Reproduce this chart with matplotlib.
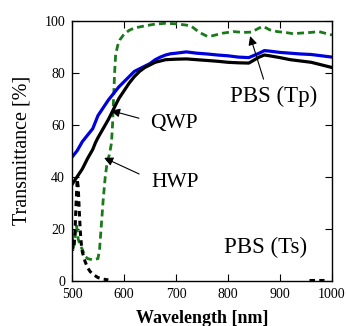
import matplotlib
matplotlib.use("Agg")
import matplotlib.pyplot as plt

# QWP (blue)
qwp_wl = [500, 510, 520, 530, 540, 545, 550, 555, 560, 570, 580, 590, 600, 610, 620, 630,
          640, 650, 660, 670, 680, 690, 700, 720, 740, 760, 780, 800, 820, 840, 860, 870,
          880, 900, 920, 940, 960, 980, 1000]
qwp_t = [47.5, 50, 53.5, 56, 58.5, 61, 63.5, 65, 66.5, 69.5, 72, 74.5, 76.5, 78.5, 80.5, 81.5,
         82.5, 83.5, 85, 86, 86.8, 87.3, 87.5, 88, 87.5, 87.2, 86.8, 86.5, 86, 85.8, 87.5, 88.5,
         88.3, 87.8, 87.5, 87.2, 87, 86.5, 86]

# HWP (black)
hwp_wl = [500, 505, 510, 520, 530, 540, 545, 550, 560, 570, 580, 590, 600, 610, 620, 630,
          640, 650, 660, 670, 680, 700, 720, 740, 760, 780, 800, 820, 840, 860, 870, 880,
          900, 920, 940, 960, 980, 1000]
hwp_t = [37, 38.5, 40, 43, 47, 50.5, 53, 55, 58.5, 62, 66, 70, 73, 76, 78.5, 80.5,
         82, 83, 84, 84.5, 85, 85.2, 85.3, 85, 84.7, 84.4, 84, 83.8, 83.7, 86, 86.8, 86.5,
         85.8, 85, 84.5, 84, 83, 82]

# PBS Tp (green dashed)
tp_wl = [500, 503, 506, 509, 512, 516, 520, 525, 530, 540, 550, 553, 556, 560, 564, 568,
         572, 576, 578, 580, 582, 584, 588, 592, 600, 610, 620, 640, 660, 680, 700, 720,
         730, 745, 760, 770, 790, 810, 830, 845, 860, 868, 880, 895, 910, 925, 945, 960,
         975, 990, 1000]
tp_t = [18, 13, 17, 21, 16, 13.5, 12, 9.5, 8.5, 8, 8.5, 12, 20, 31, 40, 46,
        48.5, 53, 60, 70, 80, 87, 90.5, 92.6, 94.8, 96.3, 97.2, 98, 98.7, 99, 98.8, 98.3,
        97.8, 95.5, 94, 94.2, 95.2, 95.8, 95.5, 95.6, 97.2, 97.8, 96.5, 95.8, 95.5, 95, 95.3, 95.5,
        95.8, 95, 94.5]

# PBS Ts (black dashed)
ts_wl = [500, 502, 504, 506, 508, 510, 512, 514, 516, 518, 520, 525, 530, 535, 540, 550, 560, 570]
ts_t = [14, 12, 13, 20, 30, 39, 36, 27, 19, 14, 11, 7.5, 5, 3.5, 2.5, 1.2, 0.6, 0.3]
ts2_wl = [955, 970, 985]
ts2_t = [0.4, 0.4, 0.4]

serif = ["Liberation Serif", "DejaVu Serif"]
plt.rcParams["font.family"] = serif

fig = plt.figure(figsize=(3.46, 3.26), dpi=100)
ax = fig.add_axes([0.208, 0.139, 0.7515, 0.7975])

ax.plot(tp_wl, tp_t, color="#1a7a1a", lw=2, ls=(0, (2.5, 1.5)))
ax.plot(ts_wl, ts_t, color="black", lw=2.2, ls=(0, (1.8, 1.4)))
ax.plot(ts2_wl, ts2_t, color="black", lw=2.2, ls=(0, (1.8, 1.4)), clip_on=False)
ax.plot(qwp_wl, qwp_t, color="#0000dd", lw=2.3)
ax.plot(hwp_wl, hwp_t, color="black", lw=2.3)

ax.set_xlim(500, 1000)
ax.set_ylim(0, 100)
ax.set_xticks(range(500, 1001, 100))
ax.set_yticks(range(0, 101, 20))
ax.tick_params(direction="in", top=True, right=True, length=5, labelsize=10)
ax.tick_params(axis="x", pad=5)
ax.tick_params(axis="y", pad=5)
for s in ax.spines.values():
    s.set_linewidth(1.0)

ax.set_xlabel("Wavelength [nm]", fontsize=13, fontweight="bold", labelpad=7)
ax.set_ylabel("Transmittance [%]", fontsize=14.5, labelpad=9)

arrow = dict(arrowstyle="-|>", color="black", lw=0.8, mutation_scale=13)
ax.text(696, 60.3, "QWP", fontsize=15.5, ha="center", va="center")
ax.annotate("", xy=(570, 65.7), xytext=(634, 62.2), arrowprops=arrow)
ax.text(698, 37.6, "HWP", fontsize=15.5, ha="center", va="center")
ax.annotate("", xy=(557, 47.7), xytext=(634, 40.6), arrowprops=arrow)
ax.text(888, 70.7, "PBS (Tp)", fontsize=16.5, ha="center", va="center")
ax.annotate("", xy=(841, 95.1), xytext=(870, 76.5), arrowprops=arrow)
ax.text(873, 12.6, "PBS (Ts)", fontsize=16.5, ha="center", va="center")

fig.savefig("out.png", dpi=100)
